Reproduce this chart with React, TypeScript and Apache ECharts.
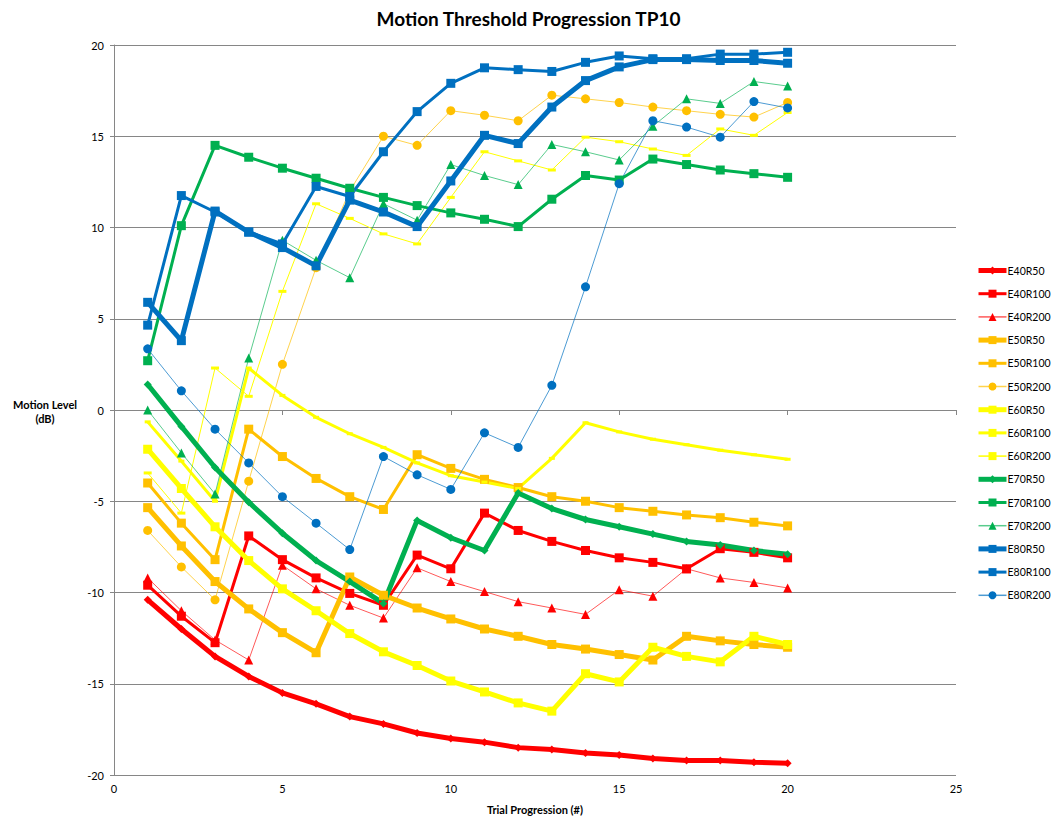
import React, { useEffect, useRef } from "react";
import * as echarts from "echarts";

const trials = [1, 2, 3, 4, 5, 6, 7, 8, 9, 10, 11, 12, 13, 14, 15, 16, 17, 18, 19, 20];

const E40R50 = [-10.4, -12.0, -13.5, -14.6, -15.5, -16.1, -16.8, -17.2, -17.7, -18.0, -18.2, -18.5, -18.6, -18.8, -18.9, -19.1, -19.2, -19.2, -19.3, -19.35];
const E40R100 = [-9.6, -11.3, -12.75, -6.9, -8.2, -9.2, -10.05, -10.7, -7.95, -8.7, -5.65, -6.6, -7.2, -7.7, -8.1, -8.35, -8.7, -7.6, -7.8, -8.1];
const E40R200 = [-9.2, -11.0, -12.6, -13.7, -8.5, -9.8, -10.7, -11.4, -8.65, -9.4, -9.95, -10.5, -10.85, -11.2, -9.85, -10.2, -8.7, -9.2, -9.45, -9.75];
const E50R50 = [-5.35, -7.45, -9.4, -10.9, -12.2, -13.3, -9.15, -10.15, -10.85, -11.45, -12.0, -12.4, -12.85, -13.1, -13.4, -13.7, -12.4, -12.65, -12.85, -13.0];
const E50R100 = [-4.0, -6.2, -8.2, -1.05, -2.55, -3.75, -4.75, -5.45, -2.45, -3.2, -3.8, -4.25, -4.75, -5.0, -5.35, -5.55, -5.75, -5.9, -6.15, -6.35];
const E50R200 = [-6.6, -8.6, -10.4, -3.9, 2.5, 7.8, 12.0, 15.0, 14.5, 16.4, 16.15, 15.85, 17.25, 17.05, 16.85, 16.6, 16.4, 16.2, 16.05, 16.85];
const E60R50 = [-2.15, -4.3, -6.4, -8.25, -9.8, -11.0, -12.25, -13.25, -14.0, -14.85, -15.45, -16.05, -16.5, -14.45, -14.9, -13.0, -13.5, -13.8, -12.4, -12.85];
const E60R100 = [-0.65, -2.8, -5.0, 2.3, 0.8, -0.4, -1.3, -2.05, -2.9, -3.6, -3.95, -4.3, -2.65, -0.7, -1.2, -1.6, -1.9, -2.2, -2.45, -2.7];
const E60R200 = [-3.45, -5.65, 2.3, 0.75, 6.5, 11.3, 10.5, 9.65, 9.1, 11.65, 14.15, 13.65, 13.15, 14.95, 14.7, 14.3, 13.95, 15.4, 15.05, 16.3];
const E70R50 = [1.4, -0.9, -3.15, -5.05, -6.75, -8.25, -9.4, -10.6, -6.05, -7.0, -7.7, -4.55, -5.4, -6.0, -6.4, -6.8, -7.2, -7.4, -7.7, -7.9];
const E70R100 = [2.7, 10.1, 14.5, 13.85, 13.25, 12.7, 12.15, 11.65, 11.2, 10.8, 10.45, 10.05, 11.55, 12.85, 12.6, 13.75, 13.45, 13.15, 12.95, 12.75];
const E70R200 = [0.0, -2.35, -4.6, 2.85, 9.3, 8.2, 7.25, 11.3, 10.4, 13.45, 12.85, 12.35, 14.55, 14.15, 13.7, 15.55, 17.05, 16.8, 18.0, 17.75];
const E80R50 = [5.9, 3.8, 10.9, 9.75, 8.9, 7.9, 11.5, 10.85, 10.05, 12.55, 15.05, 14.6, 16.6, 18.05, 18.8, 19.2, 19.2, 19.15, 19.15, 19.0];
const E80R100 = [4.65, 11.75, 10.85, 9.75, 9.1, 12.25, 11.7, 14.15, 16.35, 17.9, 18.75, 18.65, 18.55, 19.05, 19.4, 19.25, 19.25, 19.5, 19.5, 19.6];
const E80R200 = [3.35, 1.05, -1.05, -2.9, -4.75, -6.2, -7.65, -2.55, -3.55, -4.35, -1.25, -2.05, 1.35, 6.75, 12.4, 15.85, 15.5, 14.95, 16.9, 16.55];

const RED = "#FF0000";
const ORANGE = "#FFC000";
const YELLOW = "#FFFF00";
const GREEN = "#00B050";
const BLUE = "#0070C0";

type Spec = { name: string; data: number[]; color: string; width: number; symbol: string; size: number | number[]; lineOpacity?: number };

const specs: Spec[] = [
  { name: "E40R50", data: E40R50, color: RED, width: 5, symbol: "diamond", size: 8 },
  { name: "E40R100", data: E40R100, color: RED, width: 3, symbol: "rect", size: 9 },
  { name: "E40R200", data: E40R200, color: RED, width: 1, symbol: "triangle", size: 9, lineOpacity: 0.65 },
  { name: "E50R50", data: E50R50, color: ORANGE, width: 5, symbol: "rect", size: 9 },
  { name: "E50R100", data: E50R100, color: ORANGE, width: 3, symbol: "rect", size: 9 },
  { name: "E50R200", data: E50R200, color: ORANGE, width: 1, symbol: "circle", size: 9, lineOpacity: 0.7 },
  { name: "E60R50", data: E60R50, color: YELLOW, width: 5, symbol: "rect", size: 9 },
  { name: "E60R100", data: E60R100, color: YELLOW, width: 3, symbol: "rect", size: [6, 3] },
  { name: "E60R200", data: E60R200, color: YELLOW, width: 1, symbol: "rect", size: [8, 3] },
  { name: "E70R50", data: E70R50, color: GREEN, width: 5, symbol: "diamond", size: 8 },
  { name: "E70R100", data: E70R100, color: GREEN, width: 3, symbol: "rect", size: 9 },
  { name: "E70R200", data: E70R200, color: GREEN, width: 1, symbol: "triangle", size: 9, lineOpacity: 0.65 },
  { name: "E80R50", data: E80R50, color: BLUE, width: 5, symbol: "rect", size: 9 },
  { name: "E80R100", data: E80R100, color: BLUE, width: 3, symbol: "rect", size: 9 },
  { name: "E80R200", data: E80R200, color: BLUE, width: 1, symbol: "circle", size: 9, lineOpacity: 0.7 },
];

const FONT = "Lato, 'Liberation Sans', sans-serif";

export default function App() {
  const ref = useRef<HTMLDivElement>(null);
  useEffect(() => {
    if (!ref.current) return;
    const chart = echarts.init(ref.current, undefined, { renderer: "svg" });
    chart.setOption({
      animation: false,
      backgroundColor: "#ffffff",
      textStyle: { fontFamily: FONT },
      title: {
        text: "Motion Threshold Progression TP10",
        left: "center",
        top: 4,
        textStyle: { fontSize: 19, fontWeight: "bold", color: "#000", fontFamily: FONT },
      },
      grid: { left: 114, right: 101, top: 45, bottom: 42, containLabel: false },
      xAxis: {
        type: "value",
        min: 0,
        max: 25,
        interval: 5,
        name: "Trial Progression (#)",
        nameLocation: "middle",
        nameGap: 29,
        nameTextStyle: { fontSize: 11, fontWeight: "bold", color: "#000", fontFamily: FONT },
        axisLine: { lineStyle: { color: "#868686", width: 1 } },
        axisTick: { show: true, inside: false, length: 5, lineStyle: { color: "#868686" } },
        axisLabel: { fontSize: 11, color: "#000", margin: 8, fontFamily: FONT },
        splitLine: { show: false },
      },
      yAxis: {
        type: "value",
        min: -20,
        max: 20,
        interval: 5,
        axisLine: { show: true, lineStyle: { color: "#868686", width: 1 } },
        axisTick: { show: true, inside: false, length: 4, lineStyle: { color: "#868686" } },
        axisLabel: { fontSize: 11, color: "#000", margin: 10, fontFamily: FONT },
        splitLine: { show: true, lineStyle: { color: "#868686", width: 1 } },
      },
      legend: {
        orient: "vertical",
        left: 976,
        top: 265,
        padding: 0,
        itemWidth: 28,
        itemHeight: 10,
        itemGap: 12.2,
        textStyle: { fontSize: 10.5, color: "#000", padding: [0, 0, 0, -4], fontFamily: FONT },
        data: specs.map((s) => ({
          name: s.name,
          lineStyle: { width: Math.max(s.width, 1.5), color: s.color, opacity: s.lineOpacity ?? 1 },
        })),
      },
      graphic: [
        {
          type: "text",
          x: 45,
          y: 397,
          style: {
            text: "Motion Level\n(dB)",
            fontSize: 11,
            fontWeight: "bold",
            fill: "#000",
            align: "center",
            textAlign: "center",
            lineHeight: 14,
            fontFamily: FONT,
          },
        },
      ],
      series: specs.map((s) => ({
        name: s.name,
        type: "line",
        data: s.data.map((v, i) => [trials[i], v]),
        symbol: s.symbol,
        symbolSize: s.size,
        showSymbol: true,
        lineStyle: { color: s.color, width: s.width, opacity: s.lineOpacity ?? 1 },
        itemStyle: { color: s.color, borderWidth: 0 },
        emphasis: { disabled: true },
      })),
    });
    return () => chart.dispose();
  }, []);
  return <div ref={ref} style={{ position: "fixed", left: 0, top: 0, width: 1057, height: 820 }} />;
}
